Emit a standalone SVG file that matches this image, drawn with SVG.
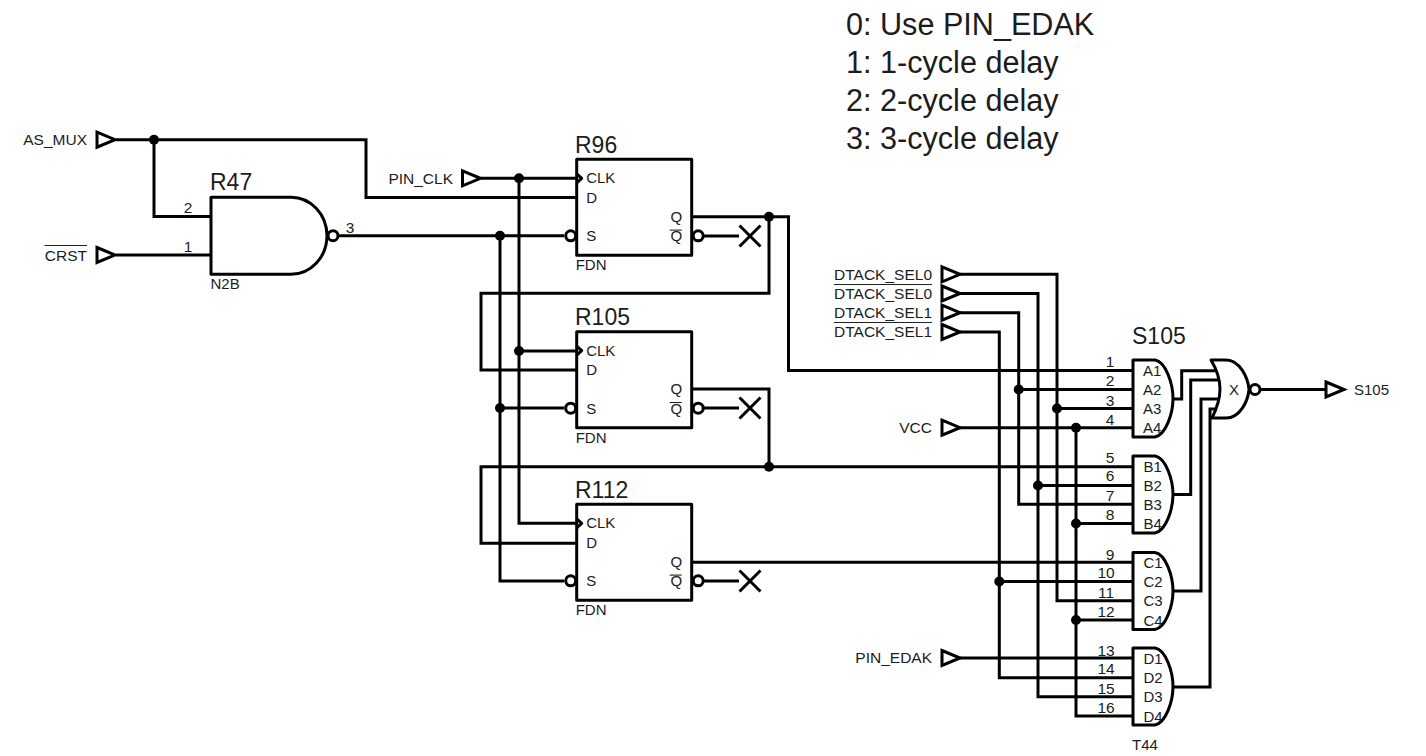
<svg xmlns="http://www.w3.org/2000/svg" width="1426" height="756" viewBox="0 0 1426 756">
<style>
text{font-family:"Liberation Sans",Arial,sans-serif;fill:#1c1c1c}
.w{fill:none;stroke:#000;stroke-width:3;stroke-linejoin:miter}
.s{fill:none;stroke:#000;stroke-width:3;stroke-linejoin:round}
.f{fill:#fff;stroke:#000;stroke-width:3}
.d{fill:#000;stroke:none}
.o{stroke:#222;stroke-width:1.100}
.n{font-size:15.500px;text-anchor:middle}
.l{font-size:15.500px;text-anchor:end}
.p{font-size:15px}
.r{font-size:23px}
.c{font-size:15px}
.a{font-size:30.600px}
</style>
<defs>
<polygon id="flag" class="f" points="-8.500,-7.500 9.500,0 -8.500,7.500"/>
<g id="ff">
<rect class="s" x="0" y="0" width="115" height="96"/>
<path class="s" d="M0 14.500 L5 19 L0 23.500" fill="none"/>
<circle class="f" cx="-6" cy="76.500" r="5"/>
<circle class="f" cx="121.500" cy="76.500" r="5"/>
<line class="o" x1="93" y1="70.800" x2="105" y2="70.800"/>
<text class="p" x="9.500" y="24">CLK</text>
<text class="p" x="9.500" y="43.500">D</text>
<text class="p" x="9.500" y="82">S</text>
<text class="p" x="105.500" y="62.500" text-anchor="end">Q</text>
<text class="p" x="105.500" y="82" text-anchor="end">Q</text>
<text class="c" x="-1" y="111">FDN</text>
</g>
<path id="x" class="s" d="M-10.500 -10.500 L10.500 10.500 M-10.500 10.500 L10.500 -10.500"/>
<path id="and" class="s" d="M0 0 H22 C33 2 40 24 40 38.500 C40 53 33 75 22 77 H0 Z"/>
</defs>
<g id="connectors">
<path class="w" d="M116 139.700 H366 V197.500 H576"/>
<path class="w" d="M154 139.700 V216.500 H211"/>
<path class="w" d="M116 255 H211"/>
<path class="w" d="M339 235.700 H564"/>
<path class="w" d="M481 178.300 H576"/>
<path class="w" d="M519 178.300 V523.300 H576"/>
<path class="w" d="M519 351 H576"/>
<path class="w" d="M500 235.700 V581 H564"/>
<path class="w" d="M500 408 H564"/>
<path class="w" d="M692 216.700 H788.500 V370.500 H1133"/>
<path class="w" d="M769 216.700 V293.300 H481 V370 H576"/>
<path class="w" d="M692 389 H769 V466.700"/>
<path class="w" d="M1133 466.700 H481 V543.300 H576"/>
<path class="w" d="M692 562.300 H1133"/>
<path class="w" d="M704 236 H739"/>
<path class="w" d="M704 408 H739"/>
<path class="w" d="M704 581 H739"/>
<path class="w" d="M960 274.300 H1057 V600.700 H1133"/>
<path class="w" d="M960 293.500 H1038 V696.700 H1133"/>
<path class="w" d="M960 312.700 H1018.700 V504.300 H1133"/>
<path class="w" d="M960 332 H999.300 V677.700 H1133"/>
<path class="w" d="M1018.700 389.500 H1133"/>
<path class="w" d="M1057 408.500 H1133"/>
<path class="w" d="M960 427.700 H1133"/>
<path class="w" d="M1076 427.700 V716 H1133"/>
<path class="w" d="M1038 485.500 H1133"/>
<path class="w" d="M1076 523.500 H1133"/>
<path class="w" d="M999.300 581.500 H1133"/>
<path class="w" d="M1076 620 H1133"/>
<path class="w" d="M960 658 H1133"/>
<path class="w" d="M1173 399 H1181.700 V370.700 H1216"/>
<path class="w" d="M1173 494.500 H1190.700 V380 H1219"/>
<path class="w" d="M1173 591 H1201 V399 H1219"/>
<path class="w" d="M1173 687 H1210 V409 H1216"/>
<path class="w" d="M1261 389.500 H1335"/>
<circle class="d" cx="154" cy="139.700" r="5"/>
<circle class="d" cx="519" cy="178.300" r="5"/>
<circle class="d" cx="500" cy="235.700" r="5"/>
<circle class="d" cx="519" cy="351" r="5"/>
<circle class="d" cx="500" cy="408" r="5"/>
<circle class="d" cx="769" cy="216.700" r="5"/>
<circle class="d" cx="769" cy="466.700" r="5"/>
<circle class="d" cx="1018.700" cy="389.500" r="5"/>
<circle class="d" cx="1057" cy="408.500" r="5"/>
<circle class="d" cx="1076" cy="427.700" r="5"/>
<circle class="d" cx="1038" cy="485.500" r="5"/>
<circle class="d" cx="1076" cy="523.500" r="5"/>
<circle class="d" cx="999.300" cy="581.500" r="5"/>
<circle class="d" cx="1076" cy="620" r="5"/>
</g>
<g id="note">
<text class="a" x="846" y="35">0: Use PIN_EDAK</text>
<text class="a" x="846" y="72.500">1: 1-cycle delay</text>
<text class="a" x="846" y="110.500">2: 2-cycle delay</text>
<text class="a" x="846" y="148.500">3: 3-cycle delay</text>
</g>
<g id="AS_MUX"><use href="#flag" x="105.500" y="139.700"/><text class="l" x="87" y="145">AS_MUX</text></g>
<g id="CRST"><use href="#flag" x="105.500" y="255"/><text class="l" x="87" y="260.500">CRST</text><line class="o" x1="44.500" y1="245.500" x2="87" y2="245.500"/></g>
<g id="PIN_CLK"><use href="#flag" x="471" y="178.300"/><text class="l" x="453" y="183.500">PIN_CLK</text></g>
<g id="DTACK_SEL0"><use href="#flag" x="950.500" y="274.300"/><text class="l" x="932" y="279.500">DTACK_SEL0</text></g>
<g id="DTACK_SEL0_N"><use href="#flag" x="950.500" y="293.500"/><text class="l" x="932" y="298.500">DTACK_SEL0</text><line class="o" x1="834" y1="284.500" x2="932" y2="284.500"/></g>
<g id="DTACK_SEL1"><use href="#flag" x="950.500" y="312.700"/><text class="l" x="932" y="318">DTACK_SEL1</text></g>
<g id="DTACK_SEL1_N"><use href="#flag" x="950.500" y="332"/><text class="l" x="932" y="337">DTACK_SEL1</text><line class="o" x1="834" y1="322.500" x2="932" y2="322.500"/></g>
<g id="VCC"><use href="#flag" x="950.500" y="427.700"/><text class="l" x="932" y="433">VCC</text></g>
<g id="PIN_EDAK"><use href="#flag" x="950.500" y="658"/><text class="l" x="932" y="663">PIN_EDAK</text></g>
<g id="S105_OUT"><use href="#flag" x="1334.500" y="389.500"/><text class="c" x="1354" y="394.500">S105</text></g>
<g id="R47">
<path class="s" d="M211 197.300 H291 A36 38.500 0 0 1 291 274.300 H211 Z"/>
<circle class="f" cx="333" cy="235.700" r="5"/>
<text class="r" x="210" y="190">R47</text>
<text class="n" x="188" y="213">2</text>
<text class="n" x="188" y="251.500">1</text>
<text class="n" x="350" y="232.500">3</text>
<text class="c" x="210.500" y="289">N2B</text>
</g>
<g id="R96"><use href="#ff" x="576.700" y="159.300"/><text class="r" x="575" y="152.500">R96</text></g>
<g id="R105"><use href="#ff" x="576.700" y="331.700"/><text class="r" x="575" y="325">R105</text></g>
<g id="R112"><use href="#ff" x="576.700" y="504.300"/><text class="r" x="575" y="497.500">R112</text></g>
<g id="X1"><use href="#x" x="750" y="236"/></g>
<g id="X2"><use href="#x" x="750" y="408"/></g>
<g id="X3"><use href="#x" x="750" y="581"/></g>
<g id="S105">
<use href="#and" x="1133" y="360"/>
<use href="#and" x="1133" y="456"/>
<use href="#and" x="1133" y="552.500"/>
<use href="#and" x="1133" y="648"/>
<path class="s" d="M1211 360 H1226 C1240 360 1248 378 1249 389.500 C1248 401 1240 418 1226 418 H1212 C1217 408 1220 398 1220 389 C1220 380 1217 370 1211 360 Z"/>
<circle class="f" cx="1255" cy="389.500" r="5"/>
<text class="c" x="1229" y="394.500">X</text>
<text class="r" x="1132" y="344">S105</text>
<g class="p">
<text x="1143" y="376">A1</text><text x="1143" y="395">A2</text><text x="1143" y="414">A3</text><text x="1143" y="433">A4</text>
<text x="1143.500" y="472">B1</text><text x="1143.500" y="491">B2</text><text x="1143.500" y="510">B3</text><text x="1143.500" y="529">B4</text>
<text x="1143.500" y="568">C1</text><text x="1143.500" y="587">C2</text><text x="1143.500" y="606">C3</text><text x="1143.500" y="625.500">C4</text>
<text x="1143.500" y="664">D1</text><text x="1143.500" y="683">D2</text><text x="1143.500" y="702">D3</text><text x="1143.500" y="721.500">D4</text>
</g>
<text class="n" x="1110" y="367">1</text><text class="n" x="1110" y="386">2</text><text class="n" x="1110" y="405.500">3</text><text class="n" x="1110" y="424.500">4</text>
<text class="n" x="1110" y="463">5</text><text class="n" x="1110" y="481">6</text><text class="n" x="1110" y="501">7</text><text class="n" x="1110" y="520">8</text>
<text class="n" x="1110" y="560">9</text><text class="n" x="1106" y="578">10</text><text class="n" x="1106" y="597.500">11</text><text class="n" x="1106" y="616.500">12</text>
<text class="n" x="1106" y="655.500">13</text><text class="n" x="1106" y="674">14</text><text class="n" x="1106" y="693.500">15</text><text class="n" x="1106" y="712.500">16</text>
<text class="c" x="1132" y="750">T44</text>
</g>
</svg>
